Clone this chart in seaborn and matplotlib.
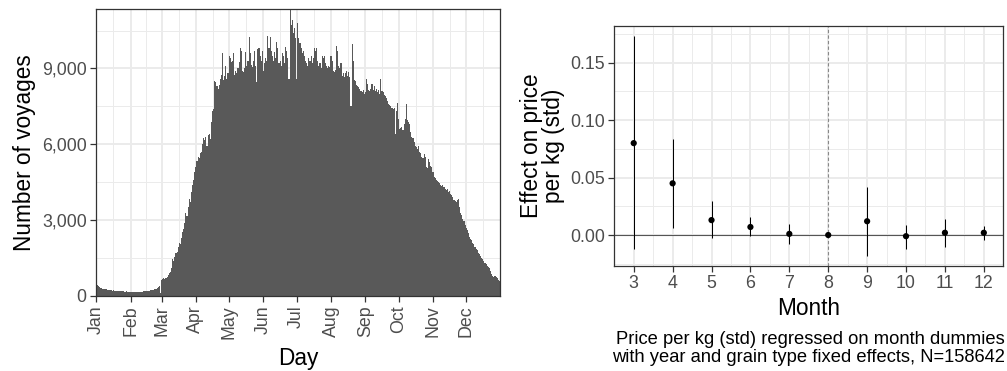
import numpy as np
import pandas as pd
import matplotlib
matplotlib.use("Agg")
import matplotlib.pyplot as plt
import seaborn as sns

# daily number of voyages, one list per month
jan = [440, 420, 400, 340, 320, 300, 290, 280, 270, 260, 250, 240, 230, 220, 220, 210,
       230, 200, 210, 190, 200, 190, 180, 200, 190, 180, 170, 180, 160, 170, 160]
feb = [150, 160, 150, 140, 160, 150, 140, 160, 150, 170, 160, 170, 180, 190, 180, 200,
       210, 200, 220, 230, 250, 240, 270, 280, 310, 340, 380, 110]
mar = [620, 680, 700, 660, 720, 760, 830, 900, 950, 1100, 1450, 1400, 1550, 1700, 1750, 1950,
       2100, 2050, 2300, 2550, 2650, 2900, 3300, 3150, 3500, 3850, 3700, 4100, 4400, 4600, 4900]
apr = [5100, 5350, 5500, 5450, 5650, 5700, 6000, 6250, 6150, 6300, 5950, 6350, 6400, 6200, 6900,
       7300, 7400, 8500, 8450, 8300, 8200, 8350, 8600, 8750, 9600, 8550, 8700, 9100, 8600, 8800]
may = [9500, 9400, 9250, 9300, 9600, 8750, 8900, 8800, 9000, 9250, 9800, 9700, 8900, 8850, 9000,
       9650, 9100, 9300, 10250, 9600, 9150, 9050, 9300, 9700, 9100, 8450, 9750, 9800, 9500, 9300, 9700]
jun = [8900, 9200, 9400, 9300, 10300, 9800, 10250, 9700, 9500, 9300, 9650, 9400, 10050, 9800, 9200,
       9300, 9100, 9600, 9500, 9200, 9850, 9700, 9400, 8600, 11350, 10700, 10900, 10400, 10600, 10200]
jul = [8600, 10800, 10200, 10000, 9800, 9600, 9700, 9500, 9300, 9200, 9100, 9400, 9300, 9500, 9200,
       9400, 9800, 9700, 9800, 9300, 9100, 9200, 9000, 9500, 9400, 9500, 9200, 9100, 9000, 9100, 9050]
aug = [9500, 9300, 8900, 8850, 8950, 9900, 9700, 9100, 9000, 9200, 8700, 8800, 8650, 8800, 8900,
       8700, 8850, 8650, 7500, 9950, 9300, 8550, 8500, 8350, 8300, 8250, 8200, 8100, 8050, 8150, 8000]
sep = [8050, 8600, 8400, 8150, 8100, 8200, 8400, 8150, 8300, 8100, 8200, 8050, 8150, 8000, 8600,
       8100, 8050, 7950, 7900, 7850, 7700, 7600, 7550, 7500, 7450, 7400, 7450, 6400, 7300, 7650]
octo = [7000, 6600, 6650, 6700, 6550, 6800, 7000, 7600, 6950, 6900, 6800, 6500, 6300, 6250, 6100,
        5950, 5900, 5800, 5950, 5700, 5650, 5500, 5450, 5600, 5500, 5100, 5050, 5400, 5300, 5150, 5100]
nov = [4900, 4700, 4650, 4600, 4550, 4500, 4450, 4400, 4350, 4400, 4300, 4250, 4200, 4250, 4100,
       4150, 4050, 4000, 3900, 3800, 3750, 3700, 3800, 3850, 3500, 3300, 3200, 3050, 2950, 2800]
dec = [2700, 2600, 2500, 2350, 2250, 2200, 2100, 2050, 1950, 1850, 1800, 1700, 1650, 1600, 1500,
       1450, 1400, 1300, 1250, 1200, 1150, 1100, 1000, 850, 800, 750, 780, 760, 700, 620, 600]

month_starts = [1, 32, 60, 91, 121, 152, 182, 213, 244, 274, 305, 335]
month_labels = ["Jan", "Feb", "Mar", "Apr", "May", "Jun",
                "Jul", "Aug", "Sep", "Oct", "Nov", "Dec"]

# month dummies regression (reference month 8)
months = [3, 4, 5, 6, 7, 8, 9, 10, 11, 12]
effect = [0.080, 0.045, 0.013, 0.007, 0.001, 0.000, 0.012, -0.001, 0.002, 0.002]
ci_low = [-0.012, 0.006, -0.003, -0.001, -0.008, 0.000, -0.018, -0.012, -0.010, -0.004]
ci_high = [0.173, 0.084, 0.030, 0.016, 0.010, 0.000, 0.042, 0.009, 0.014, 0.008]

caption = ("Price per kg (std) regressed on month dummies\n"
           "with year and grain type fixed effects, N=158642")

counts = jan + feb + mar + apr + may + jun + jul + aug + sep + octo + nov + dec
df_days = pd.DataFrame({"day": np.arange(1, len(counts) + 1), "voyages": counts})
df_eff = pd.DataFrame({"month": months, "effect": effect, "lo": ci_low, "hi": ci_high})

sns.set_theme(style="white")
plt.rcParams["font.family"] = ["Liberation Sans", "DejaVu Sans"]

GRID = "#EBEBEB"
TICK = "#4D4D4D"
BORDER = "#333333"
TICK_FS = 12.8
TITLE_FS = 16.3


def style_axes(ax):
    for s in ax.spines.values():
        s.set_color(BORDER)
        s.set_linewidth(0.9)
    ax.grid(which="major", color=GRID, linewidth=1.4)
    ax.grid(which="minor", color=GRID, linewidth=0.7)
    ax.set_axisbelow(True)
    ax.tick_params(which="major", length=4, width=0.9, color=BORDER,
                   labelcolor=TICK, labelsize=TICK_FS, bottom=True, left=True, pad=2.5)
    ax.tick_params(which="minor", length=0)


fig = plt.figure(figsize=(10.07, 3.71), dpi=100)
ax1 = fig.add_axes([0.095, 0.2022, 0.4015, 0.7735])
ax2 = fig.add_axes([0.610, 0.2838, 0.3863, 0.6469])

# left: histogram of voyages per day
sns.histplot(data=df_days, x="day", weights="voyages", discrete=True,
             color="#595959", alpha=1, linewidth=0, ax=ax1)
ax1.set_xlim(0.5, 365.5)
ax1.set_ylim(0, max(counts))
ax1.set_xticks(month_starts)
ax1.set_xticklabels(month_labels, rotation=90)
ax1.set_xticks([(a + b) / 2 for a, b in zip(month_starts, month_starts[1:] + [366])], minor=True)
ax1.set_yticks([0, 3000, 6000, 9000])
ax1.set_yticklabels(["0", "3,000", "6,000", "9,000"])
ax1.set_yticks([1500, 4500, 7500, 10500], minor=True)
style_axes(ax1)
ax1.set_xlabel("Day", fontsize=TITLE_FS, color="black", labelpad=6)
ax1.set_ylabel("Number of voyages", fontsize=TITLE_FS, color="black", labelpad=4)

# right: coefficient plot
ax2.axhline(0, color="#555555", linewidth=0.8, zorder=1)
ax2.axvline(8, color="#888888", linewidth=0.8, linestyle=(0, (3, 2)), zorder=1)
ax2.vlines(df_eff["month"], df_eff["lo"], df_eff["hi"], color="black", linewidth=0.75, zorder=2)
sns.scatterplot(data=df_eff, x="month", y="effect", color="black", s=20,
                edgecolor="none", zorder=3, ax=ax2)
ax2.set_xlim(2.56, 12.42)
ax2.set_ylim(-0.0267, 0.1822)
ax2.set_xticks(months)
ax2.set_xticks([m + 0.5 for m in [2] + months], minor=True)
ax2.set_yticks([0, 0.05, 0.10, 0.15])
ax2.set_yticklabels(["0.00", "0.05", "0.10", "0.15"])
ax2.set_yticks([-0.025, 0.025, 0.075, 0.125, 0.175], minor=True)
style_axes(ax2)
ax2.set_xlabel("Month", fontsize=TITLE_FS, color="black", labelpad=4)
ax2.set_ylabel("Effect on price\nper kg (std)", fontsize=TITLE_FS, color="black",
               labelpad=4, linespacing=0.95)

fig.text(0.998, 1 - 331 / 371, caption, ha="right", va="top", fontsize=13.2,
         color="black", linespacing=1.1)

fig.savefig("out.png", dpi=100)
